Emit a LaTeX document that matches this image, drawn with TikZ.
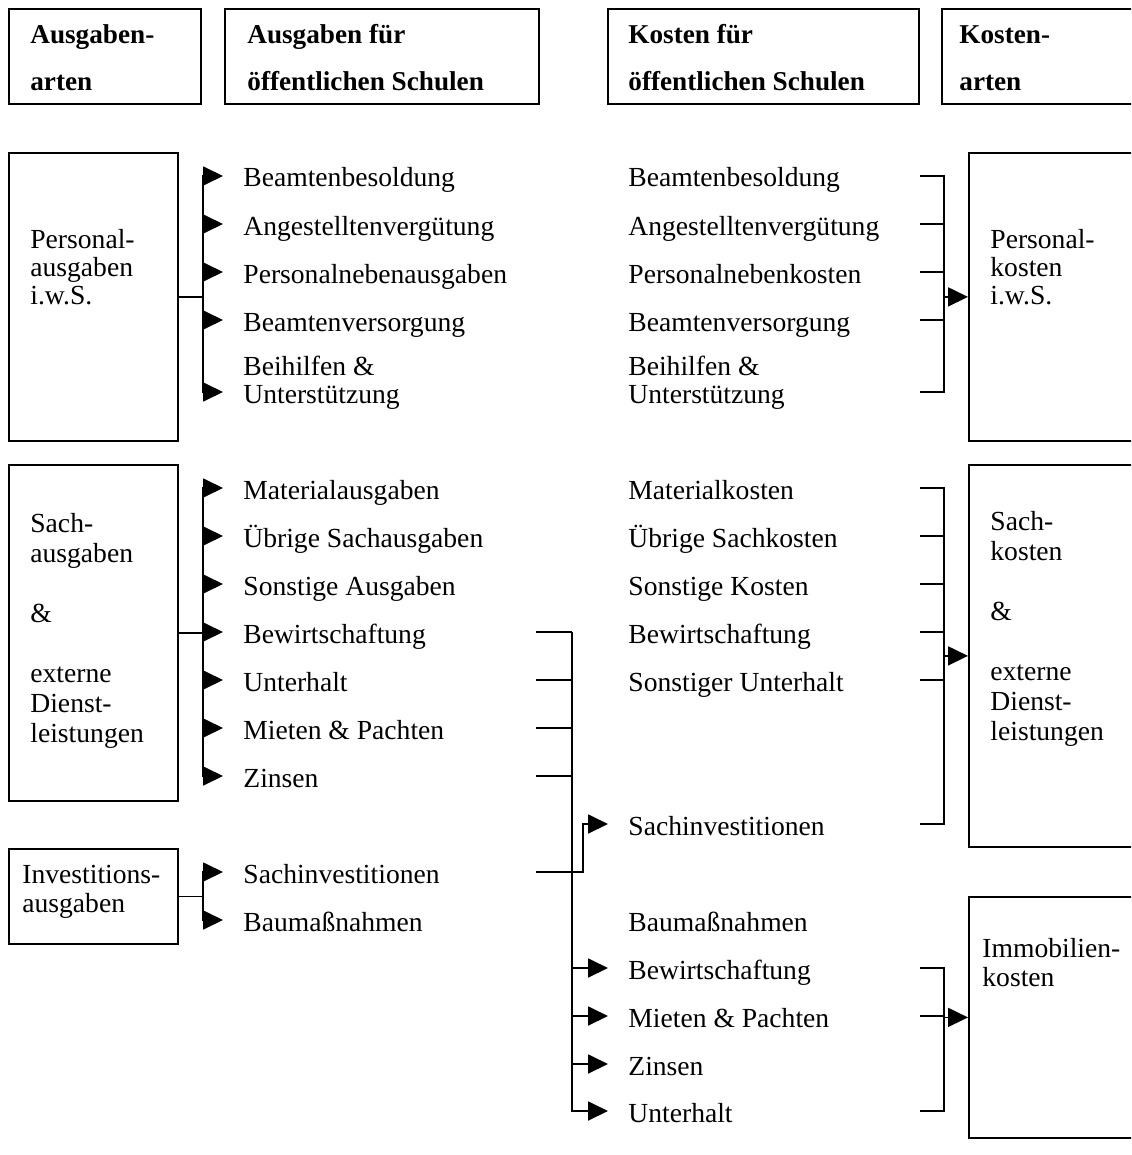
\documentclass[tikz,border=0pt]{standalone}
\usepackage{fontspec}
\setmainfont{Liberation Serif}
\usetikzlibrary{arrows.meta,calc}
\tikzset{
  kasten/.style = {draw, line width=0.9pt, anchor=north west, inner sep=0pt},
  kopf/.style   = {anchor=base west, inner sep=0pt, font=\fontsize{13.6}{23.5}\selectfont\bfseries},
  ktext/.style  = {anchor=base west, inner sep=0pt, font=\fontsize{13.8}{13.8}\selectfont},
  posten/.style = {anchor=west, inner sep=0pt, text height=11pt, text depth=0pt,
                   font=\fontsize{13.8}{13.8}\selectfont},
  linie/.style  = {draw, line width=0.9pt},
  pfeil/.style  = {->, draw, line width=0.9pt, >={Triangle[length=10pt,width=9.5pt]}},
}
\newcommand{\kasten}[5]{\node[kasten, minimum width=#4*0.5pt, minimum height=#5*0.5pt] (#1) at (#2,#3) {};}
\newcommand{\posten}[4]{\node[posten] (#1) at (#2,#3) {#4};}
\newcommand{\zeilen}[2][t]{\begin{tabular}[#1]{@{}l@{}}#2\end{tabular}}

\begin{document}
\begin{tikzpicture}[x=0.5pt,y=-0.5pt]
\useasboundingbox (0,0) rectangle (1131,1155);
\clip (0,0) rectangle (1131,1155);

% ------------------------------------------------------------------ headers
\kasten{h1}{8}{8}{192}{95}
\kasten{h2}{224}{8}{314}{95}
\kasten{h3}{607}{8}{311}{95}
\kasten{h4}{941}{8}{220}{95}
\node[kopf] (h1t) at (30,44)  {\zeilen{Ausgaben-\\arten}};
\node[kopf] (h2t) at (247,44) {\zeilen{Ausgaben für\\öffentlichen Schulen}};
\node[kopf] (h3t) at (628,44) {\zeilen{Kosten für\\öffentlichen Schulen}};
\node[kopf] (h4t) at (959,44) {\zeilen{Kosten-\\arten}};

% ------------------------------------------------------------------ expenditure types
\kasten{pa}{8}{152}{169}{288}
\kasten{sa}{8}{464}{169}{336}
\kasten{ia}{8}{848}{169}{95}
\node[ktext] (pat) at (30,249) {\zeilen{Personal-\\ausgaben\\i.w.S.}};
\node[ktext, font=\fontsize{13.8}{15}\selectfont] (sat) at (30,532)
  {\zeilen{Sach-\\ausgaben\\ \\\&\\ \\externe\\Dienst-\\leistungen}};
\node[ktext, font=\fontsize{13.8}{14.5}\selectfont] (iat) at (22,883) {\zeilen{Investitions-\\ausgaben}};

% ------------------------------------------------------------------ cost types
\kasten{pk}{968}{152}{200}{288}
\kasten{sk}{968}{464}{200}{382}
\kasten{ik}{968}{896}{200}{241}
\node[ktext] (pkt) at (990,249) {\zeilen{Personal-\\kosten\\i.w.S.}};
\node[ktext, font=\fontsize{13.8}{15}\selectfont] (skt) at (990,530)
  {\zeilen{Sach-\\kosten\\ \\\&\\ \\externe\\Dienst-\\leistungen}};
\node[ktext, font=\fontsize{13.8}{14.5}\selectfont] (ikt) at (982,957) {\zeilen{Immobilien-\\kosten}};

% ------------------------------------------------------------------ expenditure items
\posten{a1}{243}{176}{Beamtenbesoldung}
\posten{a2}{243}{224}{Angestelltenvergütung}
\posten{a3}{243}{272}{Personalnebenausgaben}
\posten{a4}{243}{320}{Beamtenversorgung}
\posten{a5}{243}{392}{\zeilen[b]{Beihilfen \&\\Unterstützung}}
\posten{a6}{243}{488}{Materialausgaben}
\posten{a7}{243}{536}{Übrige Sachausgaben}
\posten{a8}{243}{584}{Sonstige Ausgaben}
\posten{a9}{243}{632}{Bewirtschaftung}
\posten{a10}{243}{680}{Unterhalt}
\posten{a11}{243}{728}{Mieten \& Pachten}
\posten{a12}{243}{776}{Zinsen}
\posten{a13}{243}{872}{Sachinvestitionen}
\posten{a14}{243}{920}{Baumaßnahmen}

% ------------------------------------------------------------------ cost items
\posten{k1}{628}{176}{Beamtenbesoldung}
\posten{k2}{628}{224}{Angestelltenvergütung}
\posten{k3}{628}{272}{Personalnebenkosten}
\posten{k4}{628}{320}{Beamtenversorgung}
\posten{k5}{628}{392}{\zeilen[b]{Beihilfen \&\\Unterstützung}}
\posten{k6}{628}{488}{Materialkosten}
\posten{k7}{628}{536}{Übrige Sachkosten}
\posten{k8}{628}{584}{Sonstige Kosten}
\posten{k9}{628}{632}{Bewirtschaftung}
\posten{k10}{628}{680}{Sonstiger Unterhalt}
\posten{k11}{628}{824}{Sachinvestitionen}
\posten{k12}{628}{920}{Baumaßnahmen}
\posten{k13}{628}{968}{Bewirtschaftung}
\posten{k14}{628}{1016}{Mieten \& Pachten}
\posten{k15}{628}{1064}{Zinsen}
\posten{k16}{628}{1111}{Unterhalt}

% ------------------------------------------------------------------ fan out
\foreach \i in {1,...,5}{\draw[pfeil] (pa.east) -- ++(24,0) |- ([xshift=-10pt]a\i.west);}
\foreach \i in {6,...,12}{\draw[pfeil] (sa.east) -- ++(24,0) |- ([xshift=-10pt]a\i.west);}
\foreach \i in {13,14}{\draw[pfeil] (ia.east) -- ++(24,0) |- ([xshift=-10pt]a\i.west);}

% ------------------------------------------------------------------ regrouping
\coordinate (lx) at (536,0);
\coordinate (vx) at (572,0);
\coordinate (rx) at (920,0);
\foreach \i in {9,...,12}{\draw[linie] (a\i -| lx) -- (a\i -| vx);}
\foreach \i in {13,...,16}{\draw[pfeil] (a9 -| vx) |- ([xshift=-10pt]k\i.west);}
\draw[pfeil] (a13 -| lx) -- ++(47,0) |- ([xshift=-10pt]k11.west);

% ------------------------------------------------------------------ brackets
\foreach \i in {1,...,5}{\draw[linie] (k\i -| rx) -| ([xshift=-12pt]pk.west);}
\draw[pfeil] ([xshift=-12pt]pk.west) -- (pk.west);
\foreach \i in {6,...,11}{\draw[linie] (k\i -| rx) -| ([xshift=-12pt]sk.west);}
\draw[pfeil] ([xshift=-12pt]sk.west) -- (sk.west);
\foreach \i in {13,14,16}{\draw[linie] (k\i -| rx) -| ([xshift=-12pt]ik.west);}
\draw[pfeil] ([xshift=-12pt]ik.west) -- (ik.west);

\end{tikzpicture}
\end{document}
